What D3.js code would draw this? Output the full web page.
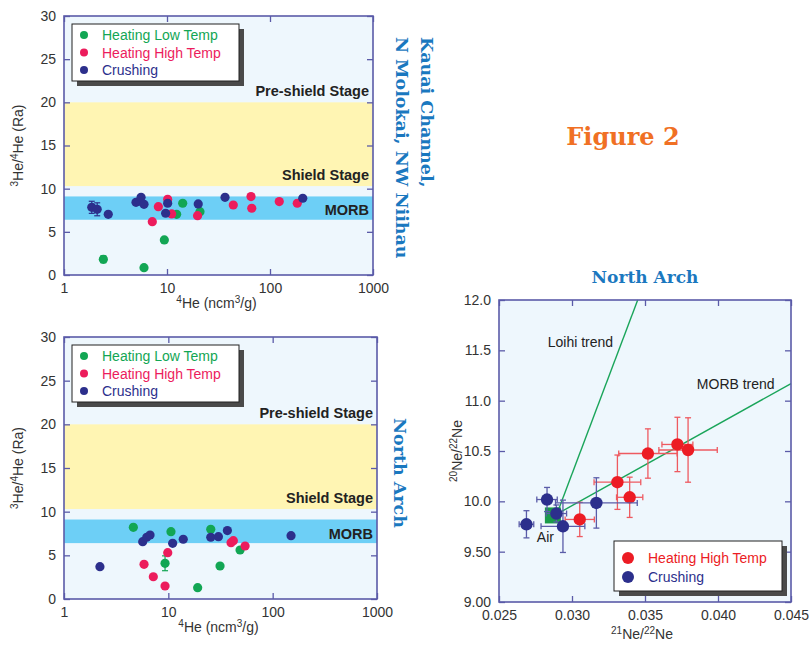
<!DOCTYPE html>
<html>
<head>
<meta charset="utf-8">
<script src="https://cdn.jsdelivr.net/npm/d3@7"></script>
<style>
  body { margin: 0; background: #fff; }
  svg { font-family: "Liberation Sans", Arial, sans-serif; }
</style>
</head>
<body>
<svg width="810" height="645"></svg>
<script>
// ---- data ----
// helium: [4He ncm3/g, 3He/4He Ra, yerr(optional)]
var kauaiLow = [[2.41,1.82,0.4],[5.98,0.85],[9.42,4.06],[12.4,7.03],[14.2,8.31],[20.9,7.33]];
var kauaiHigh = [[7.2,6.18],[8.24,7.91],[10.15,8.77],[11.1,7.07],[19.8,6.87],[44,8.11],[65.4,9.08],[66.5,7.73],[123,8.5],[184,8.31]];
var kauaiCrush = [[1.86,7.84,0.7],[2.1,7.61,0.75],[2.69,7.03],[5.0,8.42],[5.45,8.55],[5.6,9.0],[5.98,8.19],[9.7,7.15],[10.15,8.31],[20.1,8.23],[36.6,9.0],[208,8.89]];

var northLow = [[4.62,8.21],[9.3,4.09,0.85],[10.6,7.71],[19.1,1.3],[25.5,7.98],[31.3,3.78],[48.7,5.61]];
var northHigh = [[5.85,3.97],[7.18,2.55],[9.3,1.49],[9.87,5.3],[39.9,6.45],[42,6.68],[54.4,6.07]];
var northCrush = [[2.21,3.7],[5.68,6.56],[6.21,7.07],[6.68,7.33],[11.0,6.38],[13.9,6.84],[25.5,7.07],[30.2,7.14],[36.8,7.83],[150,7.25]];

// stage bands in Ra
var shieldBand = [10.3, 20];
var morbBand = [6.4, 9.1];
var heTicksX = [1, 10, 100, 1000];
var heTicksY = [0, 5, 10, 15, 20, 25, 30];
var heSeries = ["Heating Low Temp", "Heating High Temp", "Crushing"];

// neon: [21Ne/22Ne, 20Ne/22Ne, xerr, yerr]
var neHigh = [[0.03053,9.82,0.001,0.17],[0.03311,10.19,0.0016,0.27],[0.03395,10.04,0.0009,0.2],[0.0352,10.475,0.002,0.245],[0.03722,10.565,0.00106,0.27],[0.03795,10.51,0.002,0.32]];
var neCrush = [[0.02688,9.772,0.0005,0.135],[0.02829,10.018,0.0007,0.12],[0.02893,9.879,0.0007,0.085],[0.02938,9.752,0.0015,0.26],[0.03167,9.984,0.0028,0.25]];
var airPoint = [0.02869, 9.86];
var loihiTrend = [[0.0289,9.85],[0.0345,12.0]];
var morbTrend = [[0.0288,9.86],[0.045,11.17]];
var neTicksX = [0.025, 0.030, 0.035, 0.040, 0.045];
var neTicksY = [9.0, 9.5, 10.0, 10.5, 11.0, 11.5, 12.0];
var neTickLabelsY = ["9.00", "9.50", "10.0", "10.5", "11.0", "11.5", "12.0"];
var neSeries = ["Heating High Temp", "Crushing"];

var green = "#12a654", pink = "#ec1c5c", navy = "#2c2f8c", red = "#ec1c24";
var axisCol = "#5b5ba8", bg = "#eef7fd";

var svg = d3.select("svg");

// draws the inward ticks on all four sides of a plot
function frame(g, x, y, w, h, xt, yt, xfmt, yfmt) {
  g.append("rect").attr("width", w).attr("height", h).attr("fill", bg);
  return function () {
    var ax = [
      [d3.axisBottom(x).tickValues(xt).tickFormat(xfmt), "translate(0," + h + ")"],
      [d3.axisTop(x).tickValues(xt).tickFormat(""), null],
      [d3.axisLeft(y).tickValues(yt).tickFormat(yfmt), null],
      [d3.axisRight(y).tickValues(yt).tickFormat(""), "translate(" + w + ",0)"]
    ];
    ax.forEach(function (a) {
      var s = g.append("g").attr("transform", a[1]).call(a[0].tickSize(-6).tickPadding(8));
      s.select(".domain").remove();
      s.selectAll("line").attr("stroke", axisCol).attr("stroke-width", 1.3);
      s.selectAll("text").attr("font-size", 14).attr("fill", "#333").attr("font-family", "Liberation Sans, Arial, sans-serif");
    });
    g.append("rect").attr("width", w).attr("height", h).attr("fill", "none")
      .attr("stroke", axisCol).attr("stroke-width", 1.6);
  };
}

function legend(g, x0, y0, w, h, names, cols, r) {
  var lg = g.append("g").attr("transform", "translate(" + x0 + "," + y0 + ")");
  lg.append("rect").attr("x", 5).attr("y", 5).attr("width", w).attr("height", h).attr("fill", "#4a4a4a");
  lg.append("rect").attr("width", w).attr("height", h).attr("fill", "#fff").attr("stroke", "#222").attr("stroke-width", 1);
  var step = h > 55 ? 17.5 : 19;
  names.forEach(function (n, i) {
    var cy = (h > 55 ? 11 : 17) + i * step;
    lg.append("circle").attr("cx", 12 + (r - 4)).attr("cy", cy).attr("r", r).attr("fill", cols[i]);
    lg.append("text").attr("x", 30 + (r - 4) * 2).attr("y", cy + 5).attr("font-size", 14)
      .attr("fill", cols[i]).text(n);
  });
}

function heliumChart(left, top, w, h, low, high, crush) {
  var g = svg.append("g").attr("transform", "translate(" + left + "," + top + ")");
  var x = d3.scaleLog().domain([1, 1000]).range([0, w]);
  var y = d3.scaleLinear().domain([0, 30]).range([h, 0]);
  var finish = frame(g, x, y, w, h, heTicksX, heTicksY, d3.format("d"), d3.format("d"));

  g.append("rect").attr("x", 0).attr("width", w).attr("y", y(shieldBand[1]))
    .attr("height", y(shieldBand[0]) - y(shieldBand[1])).attr("fill", "#fff5b3");
  g.append("rect").attr("x", 0).attr("width", w).attr("y", y(morbBand[1]))
    .attr("height", y(morbBand[0]) - y(morbBand[1])).attr("fill", "#6dcff6");

  var lab = [["Pre-shield Stage", 21.3], ["Shield Stage", 11.6], ["MORB", 7.5]];
  lab.forEach(function (l) {
    g.append("text").attr("x", w - 4).attr("y", y(l[1]) + 5).attr("text-anchor", "end")
      .attr("font-size", 14.5).attr("font-weight", "bold").attr("fill", "#222").text(l[0]);
  });

  [[low, green], [high, pink], [crush, navy]].forEach(function (s) {
    s[0].forEach(function (d) {
      if (d[2]) {
        var eb = g.append("g").attr("stroke", s[1]).attr("stroke-width", 1.2);
        eb.append("line").attr("x1", x(d[0])).attr("x2", x(d[0])).attr("y1", y(d[1] - d[2])).attr("y2", y(d[1] + d[2]));
        [d[1] - d[2], d[1] + d[2]].forEach(function (v) {
          eb.append("line").attr("x1", x(d[0]) - 3).attr("x2", x(d[0]) + 3).attr("y1", y(v)).attr("y2", y(v));
        });
      }
    });
    g.selectAll(null).data(s[0]).enter().append("circle")
      .attr("cx", function (d) { return x(d[0]); })
      .attr("cy", function (d) { return y(d[1]); })
      .attr("r", 4.6).attr("fill", s[1]);
  });

  finish();
  legend(g, 8, 8, 167, 57, heSeries, [green, pink, navy], 4);

  // axis titles
  var yt = g.append("text").attr("transform", "translate(-41," + (h / 2) + ") rotate(-90)")
    .attr("text-anchor", "middle").attr("font-size", 14).attr("fill", "#333");
  yt.append("tspan").attr("font-size", 10).attr("dy", -5).text("3");
  yt.append("tspan").attr("dy", 5).text("He/");
  yt.append("tspan").attr("font-size", 10).attr("dy", -5).text("4");
  yt.append("tspan").attr("dy", 5).text("He (Ra)");

  var xt = g.append("text").attr("x", w / 2 - 2).attr("y", h + 33).attr("text-anchor", "middle")
    .attr("font-size", 14).attr("fill", "#333");
  xt.append("tspan").attr("font-size", 10).attr("dy", -5).text("4");
  xt.append("tspan").attr("dy", 5).text("He (ncm");
  xt.append("tspan").attr("font-size", 10).attr("dy", -5).text("3");
  xt.append("tspan").attr("dy", 5).text("/g)");
}

heliumChart(64, 16, 309, 259, kauaiLow, kauaiHigh, kauaiCrush);
heliumChart(64, 337, 313, 262, northLow, northHigh, northCrush);

// ---- neon chart ----
(function () {
  var left = 499, top = 300, w = 292, h = 302;
  var g = svg.append("g").attr("transform", "translate(" + left + "," + top + ")");
  var x = d3.scaleLinear().domain([0.025, 0.045]).range([0, w]);
  var y = d3.scaleLinear().domain([9, 12]).range([h, 0]);
  var finish = frame(g, x, y, w, h, neTicksX, neTicksY, d3.format(".3f"),
    function (d, i) { return neTickLabelsY[i]; });

  var line = d3.line().x(function (d) { return x(d[0]); }).y(function (d) { return y(d[1]); });
  [loihiTrend, morbTrend].forEach(function (t) {
    g.append("path").attr("d", line(t)).attr("stroke", "#1aa55a").attr("stroke-width", 1.4).attr("fill", "none");
  });

  g.append("rect").attr("x", x(airPoint[0]) - 8).attr("y", y(airPoint[1]) - 8)
    .attr("width", 16).attr("height", 16).attr("fill", "#1a9a4a");
  g.append("text").attr("x", x(airPoint[0]) - 16).attr("y", y(airPoint[1]) + 27)
    .attr("font-size", 14).attr("fill", "#222").text("Air");
  g.append("text").attr("x", x(0.02834)).attr("y", y(11.58) + 5).attr("font-size", 14).attr("fill", "#222").text("Loihi trend");
  g.append("text").attr("x", x(0.03855)).attr("y", y(11.17) + 5).attr("font-size", 14).attr("fill", "#222").text("MORB trend");

  [[neHigh, red, "#ee5a60"], [neCrush, navy, "#5a5ca8"]].forEach(function (s) {
    s[0].forEach(function (d) {
      var eb = g.append("g").attr("stroke", s[2]).attr("stroke-width", 1.3);
      var cx = x(d[0]), cy = y(d[1]);
      eb.append("line").attr("x1", x(d[0] - d[2])).attr("x2", x(d[0] + d[2])).attr("y1", cy).attr("y2", cy);
      eb.append("line").attr("x1", cx).attr("x2", cx).attr("y1", y(d[1] - d[3])).attr("y2", y(d[1] + d[3]));
      [d[0] - d[2], d[0] + d[2]].forEach(function (v) {
        eb.append("line").attr("x1", x(v)).attr("x2", x(v)).attr("y1", cy - 3).attr("y2", cy + 3);
      });
      [d[1] - d[3], d[1] + d[3]].forEach(function (v) {
        eb.append("line").attr("x1", cx - 3).attr("x2", cx + 3).attr("y1", y(v)).attr("y2", y(v));
      });
    });
    g.selectAll(null).data(s[0]).enter().append("circle")
      .attr("cx", function (d) { return x(d[0]); })
      .attr("cy", function (d) { return y(d[1]); })
      .attr("r", 6.2).attr("fill", s[1]);
  });

  finish();
  legend(g, 115, 241, 168, 50, neSeries, [red, navy], 6);

  var yt = g.append("text").attr("transform", "translate(-37," + (h / 2) + ") rotate(-90)")
    .attr("text-anchor", "middle").attr("font-size", 14).attr("fill", "#333");
  yt.append("tspan").attr("font-size", 10).attr("dy", -5).text("20");
  yt.append("tspan").attr("dy", 5).text("Ne/");
  yt.append("tspan").attr("font-size", 10).attr("dy", -5).text("22");
  yt.append("tspan").attr("dy", 5).text("Ne");

  var xt = g.append("text").attr("x", w / 2 - 3).attr("y", h + 37).attr("text-anchor", "middle")
    .attr("font-size", 14).attr("fill", "#333");
  xt.append("tspan").attr("font-size", 10).attr("dy", -5).text("21");
  xt.append("tspan").attr("dy", 5).text("Ne/");
  xt.append("tspan").attr("font-size", 10).attr("dy", -5).text("22");
  xt.append("tspan").attr("dy", 5).text("Ne");
})();

// ---- titles ----
var serif = "DejaVu Serif, Liberation Serif, serif";
svg.append("text").attr("x", 623).attr("y", 145).attr("text-anchor", "middle")
  .attr("font-family", serif).attr("font-weight", "bold").attr("font-size", 24)
  .attr("fill", "#f07024").text("Figure 2");
svg.append("text").attr("x", 645).attr("y", 283).attr("text-anchor", "middle")
  .attr("font-family", serif).attr("font-weight", "bold").attr("font-size", 17)
  .attr("fill", "#1a78bf").text("North Arch");

var side = svg.append("text").attr("transform", "translate(421,37) rotate(90)")
  .attr("font-family", serif).attr("font-weight", "bold").attr("font-size", 17.5).attr("fill", "#1a78bf");
side.append("tspan").attr("x", 0).attr("y", 0).text("Kauai Channel,");
side.append("tspan").attr("x", 0).attr("y", 25).text("N Molokai, NW Niihau");

svg.append("text").attr("transform", "translate(394,418) rotate(90)")
  .attr("font-family", serif).attr("font-weight", "bold").attr("font-size", 17.5)
  .attr("fill", "#1a78bf").text("North Arch");
</script>
</body>
</html>
